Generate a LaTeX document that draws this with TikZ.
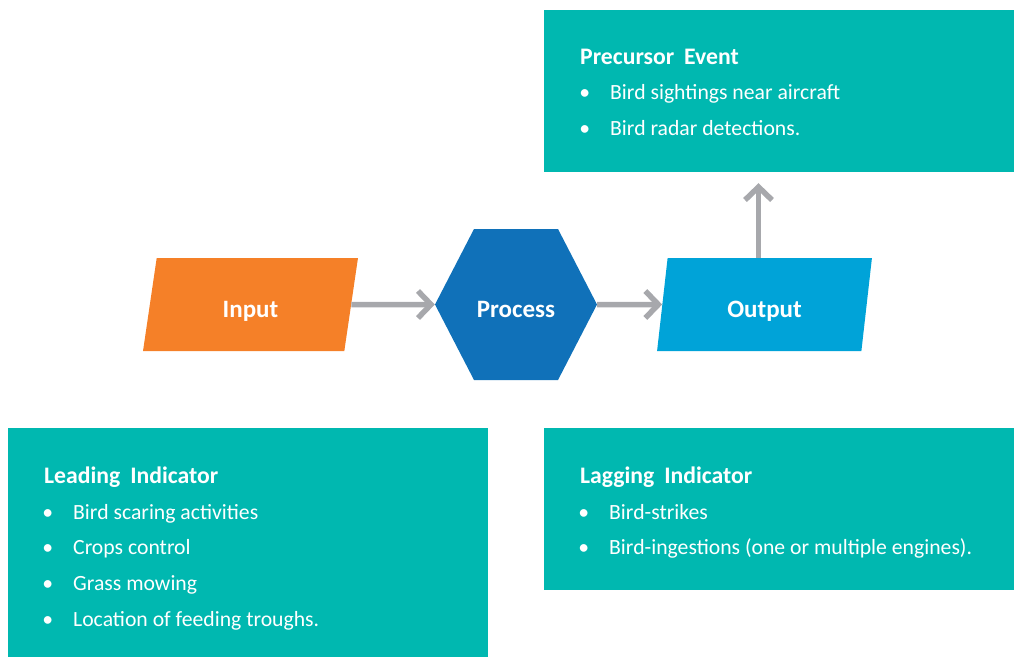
\documentclass[tikz,border=0pt]{standalone}
\usepackage{fontspec}
\setmainfont{Carlito}
\usetikzlibrary{shapes.geometric,arrows.meta}
\definecolor{tealbox}{HTML}{00B8B0}
\definecolor{inorange}{HTML}{F58028}
\definecolor{procblue}{HTML}{1071B9}
\definecolor{outblue}{HTML}{00A3D8}
\definecolor{arrowgray}{HTML}{A7A8AC}

\begin{document}
\begin{tikzpicture}[x=1pt,y=-1pt,
    box/.style={fill=tealbox,minimum width=470pt,minimum height=162pt,inner sep=0pt},
    label/.style={text=white,font=\bfseries\fontsize{25}{30}\selectfont,text height=25pt,text depth=0pt},
    iobox/.style={trapezium,trapezium left angle=80.8,trapezium right angle=99.2,trapezium stretches=true,
        minimum width=215pt,minimum height=93pt,inner sep=0pt,label},
    hexbox/.style={minimum width=162pt,minimum height=151pt,inner sep=0pt,label,
        path picture={\fill[#1] (path picture bounding box.west)
            -- ([xshift=39pt]path picture bounding box.north west) -- ([xshift=-39pt]path picture bounding box.north east)
            -- (path picture bounding box.east)
            -- ([xshift=-39pt]path picture bounding box.south east) -- ([xshift=39pt]path picture bounding box.south west)
            -- cycle;}},
    link/.style={-{Straight Barb[length=13pt,width=27pt]},line width=5.5pt,arrowgray},
    head/.style={anchor=base west,inner sep=0pt,text=white,font=\bfseries\fontsize{23.7}{28}\selectfont},
    item/.style={anchor=base west,inner sep=0pt,text=white,font=\fontsize{21.7}{26}\selectfont}]
    \useasboundingbox (0,0) rectangle (1014,657);

    % indicator boxes
    \node[box] (precursor) at (779,91) {};
    \node[box,minimum width=480pt,minimum height=229pt] (leading) at (248,542.5) {};
    \node[box] (lagging) at (779,509) {};

    % flow
    \node[iobox,fill=inorange] (input) at (250.5,304.5) {Input};
    \node[hexbox=procblue] (process) at (516,304.5) {Process};
    \node[iobox,fill=outblue] (output) at (764.5,304.5) {Output};

    \draw[link] (input) -- (process);
    \draw[link] (process) -- (output);
    \draw[link,shorten >=11pt] ([xshift=-6pt]output.north) -- ([xshift=-6pt]output.north |- precursor.south);

    % texts
    \node[head] (precursor-title) at (580,64) {Precursor\hspace{0.42em}Event};
    \foreach \t [count=\i] in {Bird sightings near aircraft,Bird radar detections.}
        \node[item] (precursor-\i) at (610,64+35.8*\i) {\llap{\textbullet\hspace{20pt}}\t};

    \node[head] (leading-title) at (44,483.3) {Leading\hspace{0.42em}Indicator};
    \foreach \t [count=\i] in {Bird scaring activities,Crops control,Grass mowing,Location of feeding troughs.}
        \node[item] (leading-\i) at (73,483.3+35.7*\i) {\llap{\textbullet\hspace{20pt}}\t};

    \node[head] (lagging-title) at (580,483.3) {Lagging\hspace{0.42em}Indicator};
    \foreach \t [count=\i] in {Bird-strikes,Bird-ingestions (one or multiple engines).}
        \node[item] (lagging-\i) at (609,483.3+35.7*\i) {\llap{\textbullet\hspace{20pt}}\t};
\end{tikzpicture}
\end{document}
